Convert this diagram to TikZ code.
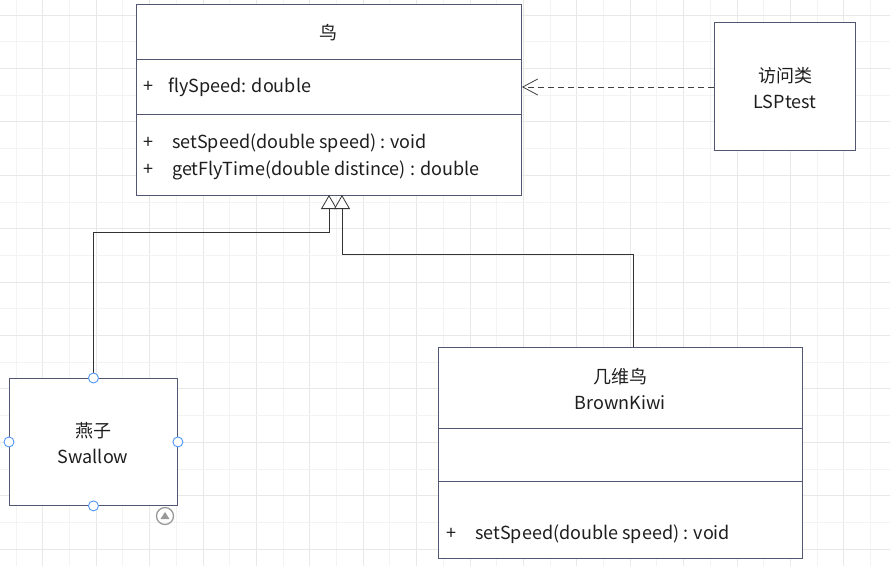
\documentclass[tikz,border=0pt]{standalone}
\usepackage{fontspec}
\setmainfont{Noto Sans CJK SC}
\usetikzlibrary{arrows.meta}
\definecolor{umlline}{RGB}{82,86,112}
\definecolor{umltext}{RGB}{30,30,30}
\definecolor{gridlo}{RGB}{243,243,243}
\definecolor{gridhi}{RGB}{232,232,232}
\definecolor{handle}{RGB}{80,150,250}
\begin{document}
\begin{tikzpicture}[x=1pt,y=-1pt,
  umlbox/.style={draw=umlline,fill=white,line width=0.9pt,anchor=north west,inner sep=0pt},
  lbl/.style={text=umltext,font=\fontsize{18}{26}\selectfont,inner sep=0pt},
  inherit/.style={draw=black!80,line width=0.8pt,-{Triangle[open,length=14pt,width=16pt,fill=white]}},
  depend/.style={draw=black!75,line width=0.8pt,dashed,dash pattern=on 6pt off 4pt,-{Straight Barb[length=15pt,width=16pt]}},
  knob/.style={circle,draw=handle,fill=white,line width=0.9pt,minimum size=10pt,inner sep=0pt}]
\useasboundingbox (0,0) rectangle (890,566);

% grid
\foreach \i in {0,...,33} {
  \pgfmathsetmacro{\gx}{16+26.7*\i}
  \ifodd\i \draw[gridhi,line width=0.8pt] (\gx,0) -- (\gx,566);
  \else \draw[gridlo,line width=0.8pt] (\gx,0) -- (\gx,566); \fi
}
\foreach \i in {0,...,21} {
  \pgfmathsetmacro{\gy}{15+26.7*\i}
  \ifodd\i \draw[gridlo,line width=0.8pt] (0,\gy) -- (890,\gy);
  \else \draw[gridhi,line width=0.8pt] (0,\gy) -- (890,\gy); \fi
}

% classes
\node[umlbox,minimum width=385pt,minimum height=191pt] (bird) at (136,4) {};
\node[umlbox,minimum width=141pt,minimum height=128pt] (visit) at (714,22) {};
\node[umlbox,minimum width=168pt,minimum height=127pt] (swallow) at (9,378) {};
\node[umlbox,minimum width=364pt,minimum height=211pt] (kiwi) at (438,347) {};

\draw[umlline,line width=0.9pt] (bird.west |- 0,59) -- (bird.east |- 0,59);
\draw[umlline,line width=0.9pt] (bird.west |- 0,114) -- (bird.east |- 0,114);
\draw[umlline,line width=0.9pt] (kiwi.west |- 0,428) -- (kiwi.east |- 0,428);
\draw[umlline,line width=0.9pt] (kiwi.west |- 0,481) -- (kiwi.east |- 0,481);

\node[lbl] (birdname) at (328,33) {鸟};
\node[lbl,anchor=west] (p1) at (143,87) {+};
\node[lbl,anchor=west] (attr) at (168,87) {flySpeed: double};
\node[lbl,anchor=west] (p2) at (143,143) {+};
\node[lbl,anchor=west] (op1) at (172,143) {setSpeed(double speed) : void};
\node[lbl,anchor=west] (p3) at (143,170) {+};
\node[lbl,anchor=west] (op2) at (172,170) {getFlyTime(double distince) : double};

\node[lbl,align=center] (visitname) at (785,88) {访问类\\LSPtest};
\node[lbl,align=center] (swallowname) at (93,443) {燕子\\Swallow};
\node[lbl,align=center] (kiwiname) at (620,389) {几维鸟\\BrownKiwi};
\node[lbl,anchor=west] (p4) at (446,534) {+};
\node[lbl,anchor=west] (op3) at (475,534) {setSpeed(double speed) : void};

% connectors
\coordinate (b1) at (329,195);
\coordinate (b2) at (342,195);
\coordinate (j1) at (329,232);
\coordinate (j2) at (633,254);
\draw[inherit] (swallow.north) |- (j1) -- (b1);
\draw[inherit] (kiwi.north -| j2) -- (j2) -| (b2);
\draw[depend] (visit.west |- attr) -- (bird.east |- attr);

% selection handles
\node[knob] (h1) at (swallow.north) {};
\node[knob] (h2) at (swallow.south) {};
\node[knob] (h3) at (swallow.west) {};
\node[knob] (h4) at (swallow.east) {};
\node[circle,draw=black!40,line width=1.3pt,minimum size=17pt,inner sep=0pt] (turn) at (165,516) {};
\fill[black!40] ([yshift=4pt]turn.center) -- ++(-4.5,7) -- ++(9,0) -- cycle;
\end{tikzpicture}
\end{document}
